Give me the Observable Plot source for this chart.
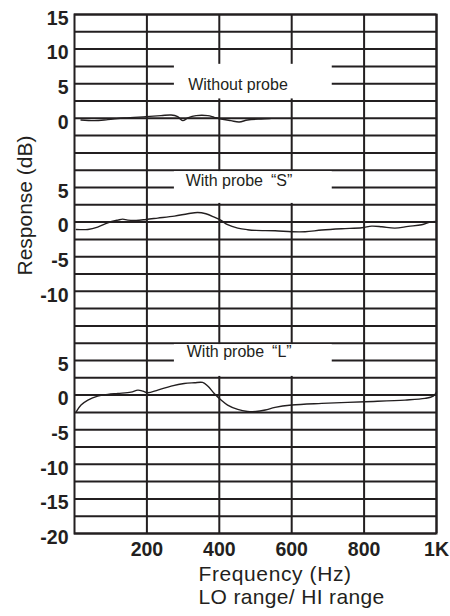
<!DOCTYPE html>
<html>
<head>
<meta charset="utf-8">
<script src="https://cdn.jsdelivr.net/npm/d3@7"></script>
<script src="https://cdn.jsdelivr.net/npm/@observablehq/plot@0.6"></script>
<style>
  html, body { margin: 0; padding: 0; background: #fff; }
  #chart svg { display: block; }
  .freq-label text { letter-spacing: 0.6px; }
  .range-label text { letter-spacing: 0.35px; }
</style>
</head>
<body>
<div id="chart"></div>
<script>
// ---- data ----
const freqTicks = [200, 400, 600, 800, 1000];
const freqLabels = ["200", "400", "600", "800", "1K"];

// panel offsets on the shared vertical scale (bottom panel = true dB)
const panelNames = ["Without probe", "With probe\u2002\u201cS\u201d", "With probe\u2002\u201cL\u201d"];
const panelOffsets = [40, 25, 0];

const yTickValues = [55, 50, 45, 40, 30, 25, 20, 15, 5, 0, -5, -10, -15, -20];
const yTickLabels = ["15", "10", "5", "0", "5", "0", "-5", "-10", "5", "0", "-5", "-10", "-15", "-20"];

// [frequency Hz, response dB]
const withoutProbe = [[18,-0.24],[55,-0.34],[92,-0.19],[138,0.05],[198,0.24],[239,0.38],[267,0.48],[285,0.24],[299,-0.34],[313,0.05],[336,0.38],[368,0.38],[386,0.14],[405,-0.1],[432,-0.34],[455,-0.53],[478,-0.24],[515,-0.1],[540,-0.05]];
const probeS = [[5,-1.06],[37,-1.06],[64,-0.72],[92,-0.1],[120,0.29],[133,0.43],[147,0.29],[170,0.24],[198,0.38],[230,0.58],[276,0.87],[313,1.2],[340,1.39],[363,1.2],[386,0.72],[405,0.24],[423,-0.38],[451,-0.87],[478,-1.1],[501,-1.2],[554,-1.25],[600,-1.39],[637,-1.39],[683,-1.15],[738,-0.96],[794,-0.82],[821,-0.58],[849,-0.67],[885,-0.87],[922,-0.62],[959,-0.38],[982,0],[1000,0.1]];
const probeL = [[5,-2.4],[18,-1.44],[37,-0.72],[64,-0.14],[92,0.1],[120,0.24],[156,0.43],[175,0.72],[189,0.58],[202,0.34],[230,0.72],[267,1.3],[303,1.68],[331,1.78],[354,1.83],[368,1.3],[386,0.24],[405,-0.72],[423,-1.44],[451,-2.07],[478,-2.36],[501,-2.38],[527,-2.16],[554,-1.78],[600,-1.44],[683,-1.2],[803,-0.96],[913,-0.72],[968,-0.48],[991,-0.14],[1000,0.45]];

// label boxes (frequency span, shared-scale span) and label anchor
const boxX1 = [276, 276, 276];
const boxX2 = [712, 712, 712];
const boxY1 = [42.8, 27.7, 2.7];
const boxY2 = [47.8, 32.3, 7.3];
const labelX = [314, 307, 310];
const labelY = [44.8, 31.0, 6.2];

// ---- build ----
const ink = "#231f20";
const curves = [withoutProbe, probeS, probeL].flatMap((arr, i) =>
  arr.map(([f, db]) => ({f, v: db + panelOffsets[i], panel: panelNames[i]})));
const gridRows = d3.range(-20, 55.001, 2.5);
const boxes = panelNames.map((name, i) => ({name, x1: boxX1[i], x2: boxX2[i], y1: boxY1[i], y2: boxY2[i], lx: labelX[i], ly: labelY[i]}));
const yLab = new Map(yTickValues.map((v, i) => [v, yTickLabels[i]]));
const xLab = new Map(freqTicks.map((v, i) => [v, freqLabels[i]]));

const chart = Plot.plot({
  width: 450,
  height: 616,
  marginLeft: 74,
  marginRight: 14,
  marginTop: 14,
  marginBottom: 83,
  style: {fontFamily: "'Liberation Sans', Arial, sans-serif", color: ink, background: "#fff"},
  x: {domain: [0, 1000], axis: null},
  y: {domain: [-20, 55], axis: null},
  marks: [
    Plot.ruleY(gridRows, {stroke: ink, strokeWidth: 2}),
    Plot.ruleX(freqTicks, {stroke: ink, strokeWidth: 2}),
    Plot.rect(boxes, {x1: "x1", x2: "x2", y1: "y1", y2: "y2", fill: "#fff"}),
    Plot.frame({stroke: ink, strokeWidth: 2}),
    Plot.line(curves, {x: "f", y: "v", z: "panel", stroke: ink, strokeWidth: 1.4, curve: "catmull-rom"}),
    Plot.text(boxes, {x: "lx", y: "ly", text: "name", textAnchor: "start", fontSize: 16, fill: ink}),
    Plot.axisY({ticks: yTickValues, tickFormat: d => yLab.get(d), tickSize: 0, tickPadding: 6, dy: 4,
      fontSize: 19.5, fontWeight: "bold", fill: ink, label: null}),
    Plot.axisX({ticks: freqTicks, tickFormat: d => xLab.get(d), tickSize: 0, tickPadding: 9,
      fontSize: 19.5, fontWeight: "bold", fill: ink, label: null}),
    Plot.text(["Response (dB)"], {frameAnchor: "left", y: [27.4], rotate: -90, textAnchor: "middle", dx: -49, fontSize: 21, fill: ink}),
    Plot.text(["Frequency (Hz)"], {frameAnchor: "bottom-left", textAnchor: "start", dx: 124, dy: 47, fontSize: 21, fill: ink, className: "freq-label"}),
    Plot.text(["LO range/ HI range"], {frameAnchor: "bottom-left", textAnchor: "start", dx: 124, dy: 70, fontSize: 21, fill: ink, className: "range-label"})
  ]
});
document.getElementById("chart").appendChild(chart);
</script>
</body>
</html>
